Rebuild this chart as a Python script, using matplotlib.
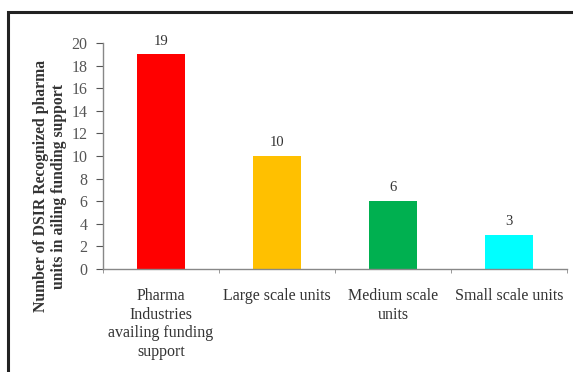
import matplotlib
matplotlib.use("Agg")
import matplotlib.pyplot as plt
from matplotlib.patches import Rectangle
import numpy as np

categories = ["Pharma\nIndustries\navailing funding\nsupport", "Large scale units",
              "Medium scale\nunits", "Small scale units"]
values = [19, 10, 6, 3]
colors = ["#FF0000", "#FFC000", "#00B050", "#00FFFF"]
yticks = list(range(0, 21, 2))

plt.rcParams["font.family"] = ["Liberation Serif", "DejaVu Serif"]

W, H = 573, 372
fig = plt.figure(figsize=(W / 100, H / 100), dpi=100)
fig.patch.set_facecolor("white")

# chart frame
fig.add_artist(Rectangle((8 / W, -0.1), 1.2, (H - 12) / H + 0.1, transform=fig.transFigure,
                         fill=False, edgecolor="#222222", linewidth=2.2))

ax = fig.add_axes([103 / W, 1 - 269 / H, (567 - 103) / W, (269 - 43) / H])
x = np.arange(len(values))
ax.bar(x, values, width=0.41, color=colors)
for xi, v in zip(x, values):
    ax.text(xi, v + 0.6, str(v), ha="center", va="bottom", fontsize=10.5, color="#333333")

ax.set_xlim(-0.5, len(values) - 0.5)
ax.set_ylim(0, 20)
ax.set_yticks(yticks)
ax.tick_params(axis="y", labelsize=11.5, colors="#555555", length=5, width=0.8, pad=6)
ax.set_xticks(x)
ax.set_xticklabels(categories, fontsize=11.5, color="#333333", linespacing=1.2, va="top")
ax.tick_params(axis="x", length=0, pad=14)
ax.set_xticks(np.arange(-0.5, len(values), 1), minor=True)
ax.tick_params(axis="x", which="minor", length=3, color="#888888")

for s in ["top", "right"]:
    ax.spines[s].set_visible(False)
for s in ["left", "bottom"]:
    ax.spines[s].set_color("#888888")
    ax.spines[s].set_linewidth(1.0)

fig.text(50 / W, 1 - 186 / H, "Number of DSIR Recognized pharma\nunits in ailing funding support",
         rotation=90, ha="center", va="center", fontsize=11.3, fontweight="bold",
         color="#333333", linespacing=1.2)

fig.savefig("out.png", dpi=100)
